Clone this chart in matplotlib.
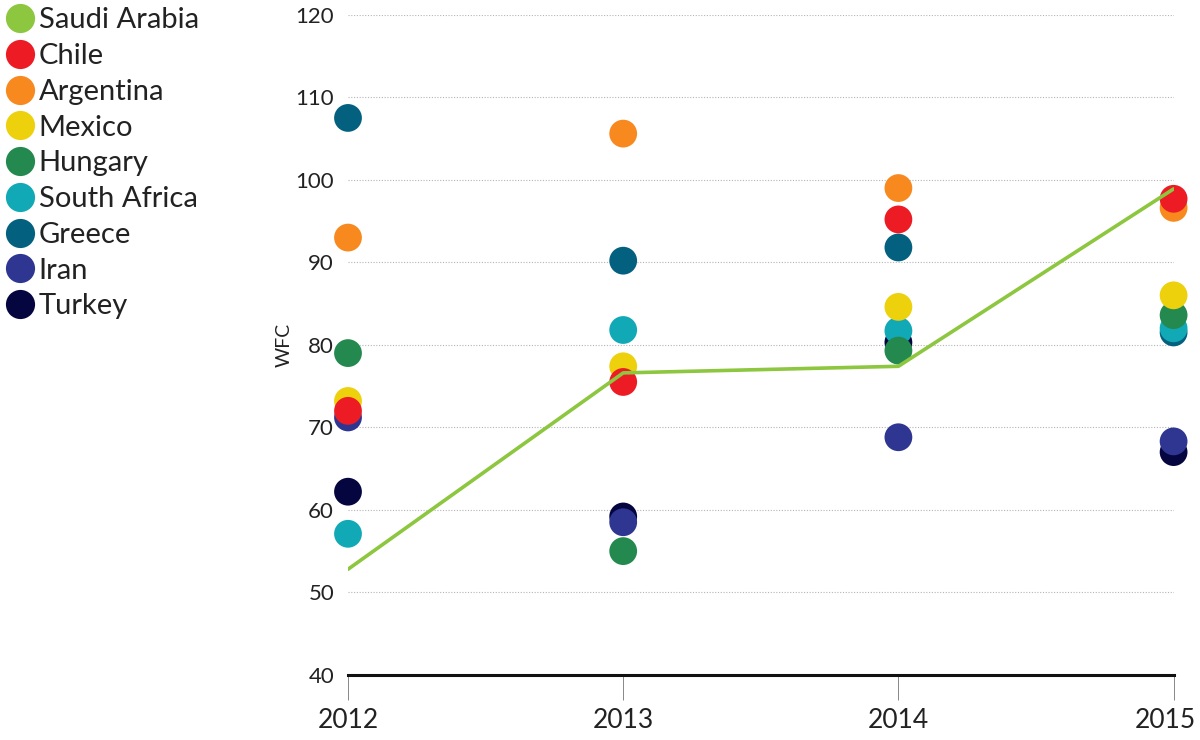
import matplotlib.pyplot as plt
import matplotlib.transforms as mtransforms
from matplotlib.lines import Line2D

plt.rcParams['font.family'] = ['Lato', 'DejaVu Sans']

years = [2012, 2013, 2014, 2015]

saudi_arabia = [52.8, 76.6, 77.4, 98.9]
chile = [72.0, 75.5, 95.2, 97.7]
argentina = [93.0, 105.6, 99.0, 96.6]
mexico = [73.2, 77.4, 84.6, 86.0]
hungary = [79.0, 55.0, 79.3, 83.6]
south_africa = [57.1, 81.8, 81.7, 82.0]
greece = [107.5, 90.2, 91.8, 81.5]
iran = [71.2, 58.5, 68.8, 68.3]
turkey = [62.2, 59.2, 80.3, 67.0]

names = ['Saudi Arabia', 'Chile', 'Argentina', 'Mexico', 'Hungary',
         'South Africa', 'Greece', 'Iran', 'Turkey']
colors = ['#8dc63f', '#ed1c24', '#f7891f', '#ecd10c', '#23894e',
          '#10a9b5', '#04607f', '#2e3691', '#05053f']
dots = [chile, argentina, mexico, hungary, south_africa, greece, iran, turkey]

fig = plt.figure(figsize=(12, 7.4), dpi=100)
ax = fig.add_axes([0.29, 0.088, 0.688, 0.892])

# draw dots back to front so the upper legend entries land on top
for vals, c in reversed(list(zip(dots, colors[1:]))):
    ax.scatter(years, vals, s=400, color=c, edgecolors='none', zorder=3, clip_on=False)

ax.plot(years, saudi_arabia, color=colors[0], lw=2.6, zorder=4, solid_capstyle='round')

ax.set_xlim(2012, 2015)
ax.set_ylim(40, 120)
ax.set_xticks(years)
ax.set_xticklabels([str(y) for y in years])
ax.set_yticks(range(40, 121, 10))

ax.yaxis.grid(True, linestyle=(0, (1, 1.5)), color='#b5b5b5', lw=0.8)
ax.set_axisbelow(True)
for s in ['top', 'right', 'left']:
    ax.spines[s].set_visible(False)
ax.spines['bottom'].set_linewidth(2.2)
ax.spines['bottom'].set_color('#111111')

ax.tick_params(axis='x', length=18, width=0.7, color='#888888', pad=6,
               labelsize=19, labelcolor='#222222')
ax.tick_params(axis='y', length=0, pad=10, labelsize=16, labelcolor='#222222')
ax.set_ylabel('WFC', fontsize=14, color='#222222', labelpad=2)

# nudge the last year label left so it stays inside the picture
last = ax.get_xticklabels()[-1]
last.set_transform(last.get_transform() +
                   mtransforms.ScaledTranslation(-8 / 100, 0, fig.dpi_scale_trans))

handles = [Line2D([0], [0], marker='o', linestyle='none', markersize=21,
                  markerfacecolor=c, markeredgecolor='none') for c in colors]
fig.legend(handles, names, loc='upper left', bbox_to_anchor=(-0.008, 1.006),
           frameon=False, fontsize=21, handletextpad=0.05, labelspacing=0.335,
           handlelength=1.2, borderaxespad=0, labelcolor='#222222')

fig.savefig('out.png', dpi=100)
